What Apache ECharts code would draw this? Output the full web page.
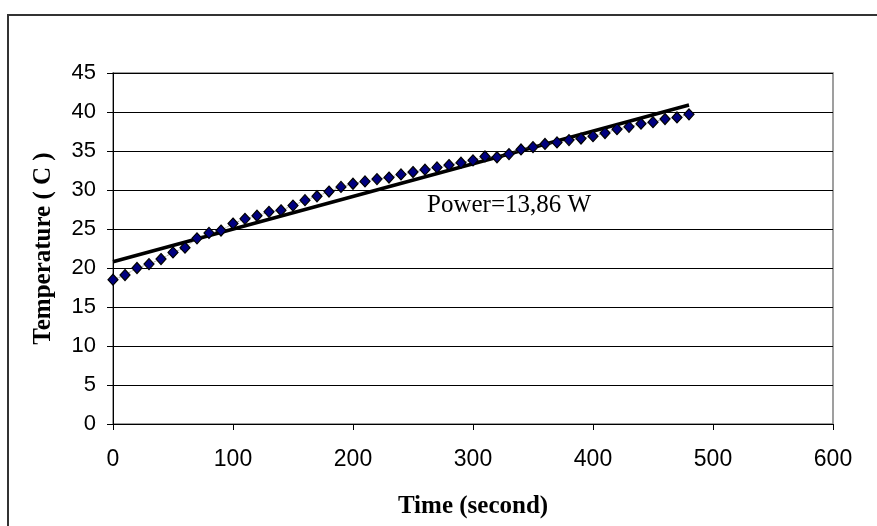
<!DOCTYPE html>
<html>
<head>
<meta charset="utf-8">
<script src="https://cdn.jsdelivr.net/npm/echarts@6/dist/echarts.min.js"></script>
<style>html,body{margin:0;padding:0;background:#fff;}#c{width:877px;height:526px;}</style>
</head>
<body>
<div id="c"></div>
<script>
var times = [0,10,20,30,40,50,60,70,80,90,100,110,120,130,140,150,160,170,180,190,200,210,220,230,240,250,260,270,280,290,300,310,320,330,340,350,360,370,380,390,400,410,420,430,440,450,460,470,480];
var temps = [18.5,19.1,20.0,20.5,21.15,22.0,22.6,23.8,24.5,24.8,25.7,26.3,26.7,27.2,27.4,28.0,28.7,29.2,29.8,30.4,30.8,31.1,31.4,31.6,32.0,32.3,32.6,32.9,33.2,33.5,33.8,34.3,34.2,34.6,35.2,35.5,35.9,36.1,36.4,36.6,36.9,37.3,37.8,38.1,38.5,38.7,39.1,39.3,39.7];
var trendTimes = [0,480];
var trendTemps = [20.8,40.9];
var annotation = "Power=13,86 W";
var xTitle = "Time (second)";
var yTitle = "Temperature ( C )";

var pts = times.map(function(t,i){return [t,temps[i]];});
var trend = trendTimes.map(function(t,i){return [t,trendTemps[i]];});

var chart = echarts.init(document.getElementById('c'));
chart.setOption({
  animation:false,
  backgroundColor:'#ffffff',
  grid:{left:113,right:44,top:73,bottom:102,show:true,borderColor:'#808080',borderWidth:1.5,backgroundColor:'transparent'},
  xAxis:{type:'value',min:0,max:600,interval:100,
    name:xTitle,nameLocation:'middle',nameGap:70,
    nameTextStyle:{fontFamily:'Liberation Serif',fontWeight:'bold',fontSize:25,color:'#000'},
    axisLine:{show:true,onZero:false,lineStyle:{color:'#000',width:1}},
    axisTick:{show:true,inside:false,length:6,lineStyle:{color:'#000'}},
    axisLabel:{fontFamily:'Liberation Sans',fontSize:23,color:'#000',margin:24},
    splitLine:{show:false}},
  yAxis:{type:'value',min:0,max:45,interval:5,
    name:yTitle,nameLocation:'middle',nameGap:57,nameRotate:90,
    nameTextStyle:{fontFamily:'Liberation Serif',fontWeight:'bold',fontSize:25,color:'#000'},
    axisLine:{show:true,lineStyle:{color:'#000',width:1}},
    axisTick:{show:true,inside:false,length:6,lineStyle:{color:'#000'}},
    axisLabel:{fontFamily:'Liberation Sans',fontSize:22,color:'#000',margin:17},
    splitLine:{show:true,lineStyle:{color:'#000',width:1}}},
  series:[
    {type:'line',data:trend,symbol:'none',lineStyle:{color:'#000',width:3.5},z:3},
    {type:'line',data:pts,symbol:'diamond',symbolSize:[10,11],
     itemStyle:{color:'#000080',borderColor:'#000',borderWidth:1.2},
     lineStyle:{color:'#555',width:0.8,type:'dotted'},z:4}
  ],
  graphic:[
    {type:'rect',shape:{x:8,y:15,width:900,height:600},style:{fill:'none',stroke:'#333',lineWidth:2},z:-1},
    {type:'text',left:427,top:193,style:{text:annotation,fontFamily:'Liberation Serif',fontSize:25,fill:'#000'}}
  ]
});
</script>
</body>
</html>
